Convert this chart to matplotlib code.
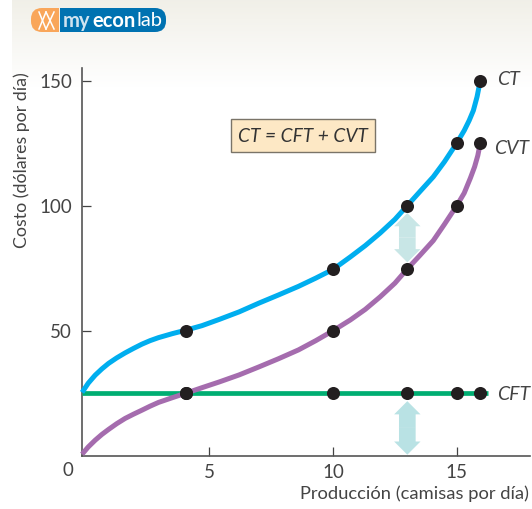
import numpy as np
import matplotlib
matplotlib.use("Agg")
import matplotlib.pyplot as plt
from matplotlib.patches import FancyArrowPatch, FancyBboxPatch, ArrowStyle, Rectangle

W, H = 532, 509
plt.rcParams['font.family'] = ['Lato', 'DejaVu Sans']

# Curves
ct_x = [-0.15, 0.1, 0.38, 0.65, 0.92, 1.25, 1.59, 1.93, 2.27, 2.6, 2.94, 3.5, 4.05, 4.7, 5.4, 6.2, 7, 7.8, 8.6, 9.3, 10, 10.7,
        11.3, 11.9, 12.5, 13, 13.5, 14.05, 14.5, 15, 15.3, 15.5, 15.67, 15.82, 15.95]
ct_y = [25.3, 29, 32.2, 34.7, 36.9, 39.1, 41.1, 42.9, 44.6, 46, 47.2, 48.8, 50.2, 52, 54.5, 57.5, 61, 64.3, 67.7, 71, 74.5, 79.5,
        84, 89, 94.5, 100, 105.5, 111.5, 117.5, 125, 130, 134, 138, 143.5, 150]
cvt_x = [-0.15, 0.1, 0.38, 0.65, 0.92, 1.25, 1.59, 1.93, 2.27, 2.6, 2.94, 3.5, 4.05, 4.7, 5.4, 6.2, 7, 7.8, 8.6, 9.3, 10, 10.7,
         11.3, 11.9, 12.5, 13, 13.5, 14.05, 14.5, 15, 15.3, 15.55, 15.72, 15.85, 15.95]
cvt_y = [0.6, 3.5, 6.2, 8.5, 10.5, 12.8, 14.9, 16.6, 18.2, 19.8, 21.3, 23.2, 25, 27.2, 29.5, 32.3, 35.5, 38.8, 42.3, 46, 50, 54.3,
         58.5, 63.5, 69, 74.7, 80, 86, 92.5, 100, 105, 111, 115.5, 120, 125]
cft_x = [-0.15, 16.27]
cft_y = [25, 25]

# Marked points
ct_px = [4.05, 10, 13, 15, 15.95]
ct_py = [50, 74.5, 100, 125, 150]
cvt_px = [4.05, 10, 13, 15, 15.95]
cvt_py = [25, 50, 74.5, 100, 125]
cft_px = [4.05, 10, 13, 15, 15.95]
cft_py = [25, 25, 25, 25, 25]

x_ticks = [5, 10, 15]
y_ticks = [50, 100, 150]
arrow_x = 13
arrow_low = (0.4, 21.8)
arrow_high = (77.3, 97)

fig = plt.figure(figsize=(W / 100, H / 100), dpi=100, facecolor='white')

# Background band
bg = fig.add_axes([12 / W, 1 - 88 / H, 1 - 12 / W, 88 / H], zorder=0)
grad = np.linspace(0, 1, 88).reshape(-1, 1, 1)
top = np.array([0.945, 0.94, 0.91]).reshape(1, 1, 3)
bg.imshow(top * (1 - grad) + 1.0 * grad, aspect='auto')
bg.axis('off')

# Main axes
L, R, T, B = 81.7, 530, 68, 455.7
ax = fig.add_axes([L / W, 1 - B / H, (R - L) / W, (B - T) / H], zorder=1)
ax.patch.set_alpha(0)
ax.set_xlim(-0.165, 17.96)
ax.set_ylim(0, 155)
for s in ('top', 'right'):
    ax.spines[s].set_visible(False)
for s in ('left', 'bottom'):
    ax.spines[s].set_color('#555555')
    ax.spines[s].set_linewidth(1.2)
ax.set_xticks(x_ticks)
ax.set_yticks(y_ticks)
ax.tick_params(axis='both', direction='in', length=6.5, width=0.9, color='#444444',
               labelsize=13.5, labelcolor='#444444', pad=7)
ax.tick_params(axis='x', pad=6)

ax.plot(cft_x, cft_y, color='#00ae72', lw=3.4, solid_capstyle='butt', zorder=3, clip_on=False)
ax.plot(ct_x, ct_y, color='#00aeef', lw=3.6, solid_capstyle='butt', solid_joinstyle='round', zorder=4, clip_on=False)
ax.plot(cvt_x, cvt_y, color='#a56cae', lw=3.6, solid_capstyle='butt', solid_joinstyle='round', zorder=4, clip_on=False)

for px, py in ((ct_px, ct_py), (cvt_px, cvt_py), (cft_px, cft_py)):
    ax.plot(px, py, 'o', color='#231f20', ms=9.4, mew=0, zorder=6, clip_on=False)

style = ArrowStyle('simple', head_length=9.5, head_width=19, tail_width=12)
for (lo, hi), col in ((arrow_low, '#b9e2e4'), (arrow_high, '#c8e6e6')):
    mid = (lo + hi) / 2
    for end in (lo, hi):
        ax.add_patch(FancyArrowPatch((arrow_x, mid), (arrow_x, end), arrowstyle=style,
                                     mutation_scale=1, color=col, lw=0,
                                     shrinkA=0, shrinkB=0, zorder=2))

# Overlay in pixel coordinates for labels, box and logo
ov = fig.add_axes([0, 0, 1, 1], zorder=2)
ov.set_xlim(0, W)
ov.set_ylim(H, 0)
ov.axis('off')

grey = '#444444'
ov.text(68, 471, '0', fontsize=13.5, color=grey, ha='center', va='center')
ov.text(529, 494, 'Producción (camisas por día)', fontsize=13.2, color=grey, ha='right', va='center')
ov.text(22, 160, 'Costo (dólares por día)', fontsize=12.8, color=grey, rotation=90, ha='center', va='center')
ov.text(497, 79, 'CT', fontsize=14, style='italic', color=grey, va='center')
ov.text(494, 148, 'CVT', fontsize=14, style='italic', color=grey, va='center')
ov.text(497, 395, 'CFT', fontsize=14, style='italic', color=grey, va='center')

# Equation box
ov.add_patch(Rectangle((231, 119), 144, 33, fc='#fde8c5', ec='#7a7468', lw=1, zorder=3))
ov.text(303, 136, 'CT = CFT + CVT', fontsize=13.8, style='italic', color='#333333',
        ha='center', va='center', zorder=4)

# Logo
for col, x0, x1 in (('#f9a65a', 31, 59), ('#0072b1', 59.5, 166)):
    p = FancyBboxPatch((31, 8), 135, 24, boxstyle='round,pad=0,rounding_size=11',
                       fc=col, ec='none', zorder=3)
    ov.add_patch(p)
    p.set_clip_path(Rectangle((x0, 0), x1 - x0, 40, transform=ov.transData))
for xa, xb in ((39, 46), (46, 39), (46, 54), (54, 46)):
    ov.plot([xa, xb], [12, 29], color='white', lw=1.1, zorder=4)
ov.text(63, 20.5, 'my', fontsize=14.5, color='#cfe3f0', fontweight='bold', va='center', zorder=4)
ov.text(92.5, 20.5, 'econ', fontsize=14.5, color='white', fontweight='bold', va='center', zorder=4)
ov.text(136.5, 20.5, 'lab', fontsize=14.5, color='white', fontweight='normal', va='center', zorder=4)

fig.savefig('out.png', dpi=100)
